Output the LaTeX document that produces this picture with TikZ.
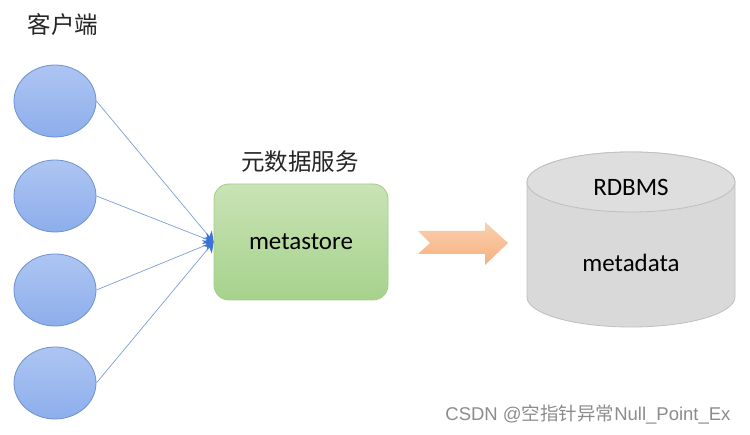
\documentclass[tikz,border=0pt]{standalone}
\usepackage{fontspec}
\setmainfont{Carlito}
\newfontfamily\cjk{Noto Sans CJK SC}
\newfontfamily\wm{Liberation Sans}
\usetikzlibrary{arrows.meta,shapes.geometric}
\definecolor{cblue}{HTML}{7C9FD9}
\definecolor{cborder}{HTML}{6F91D0}
\definecolor{ctop}{HTML}{ADC5F2}
\definecolor{cbot}{HTML}{8DAEEC}
\definecolor{ctipblue}{HTML}{3B72D4}
\definecolor{gborder}{HTML}{A3CD86}
\definecolor{gtop}{HTML}{C9E3B5}
\definecolor{gbot}{HTML}{A6D28C}
\definecolor{orangeA}{HTML}{FAD0B0}
\definecolor{orangeB}{HTML}{F6B07E}
\tikzset{
  client/.style={ellipse, minimum width=82pt, minimum height=72pt, draw=cborder, line width=0.8pt,
    top color=ctop, bottom color=cbot},
  conn/.style={draw=cblue, line width=0.7pt, -{Stealth[length=10pt,width=12pt,color=ctipblue]}},
  cjklabel/.style={font=\cjk\fontsize{23.5}{26}\selectfont, text=black!85},
  boxtext/.style={font=\fontsize{25}{28}\selectfont, text=black},
}
\begin{document}
\begin{tikzpicture}[x=1pt,y=-1pt]
\useasboundingbox (0,0) rectangle (750,435);
\fill[white] (0,0) rectangle (750,435);
% title
\node[cjklabel] (title) at (63,25) {客户端};
% clients
\node[client] (c1) at (55,101) {};
\node[client] (c2) at (55,196) {};
\node[client] (c3) at (55,290) {};
\node[client] (c4) at (55,383) {};
% metastore box
\node[draw=gborder, line width=0.8pt, rounded corners=15pt, minimum width=174pt, minimum height=116pt,
  top color=gtop, bottom color=gbot, boxtext] (ms) at (301,242) {metastore};
\node[cjklabel] (mslabel) at (300,162) {元数据服务};
% connectors
\foreach \c in {c1,c2,c3,c4} \draw[conn] (\c.east) -- (ms.west);
% orange arrow
\shade[top color=orangeA, bottom color=orangeB]
  (418,231) -- (485,231) -- (485,222) -- (508,243) -- (485,265) -- (485,254) -- (418,254) -- (430,243) -- cycle;
% cylinder
\path[fill=black!15, draw=black!25, line width=0.8pt]
  (527,182) -- (527,297) arc[start angle=180, end angle=0, x radius=104, y radius=30] -- (735,182)
  arc[start angle=0, end angle=-180, x radius=104, y radius=30] -- cycle;
\draw[black!25, line width=0.8pt, fill=black!13] (631,182) ellipse[x radius=104, y radius=30];
\node[boxtext] (rdbms) at (631,187) {RDBMS};
\node[boxtext] (md) at (631,263) {metadata};
% watermark
\node[font=\wm\fontsize{18.5}{20}\selectfont, text=black!45, anchor=east] (wmk) at (734,415) {CSDN @{\cjk 空指针异常}Null\_Point\_Ex};
\end{tikzpicture}
\end{document}
